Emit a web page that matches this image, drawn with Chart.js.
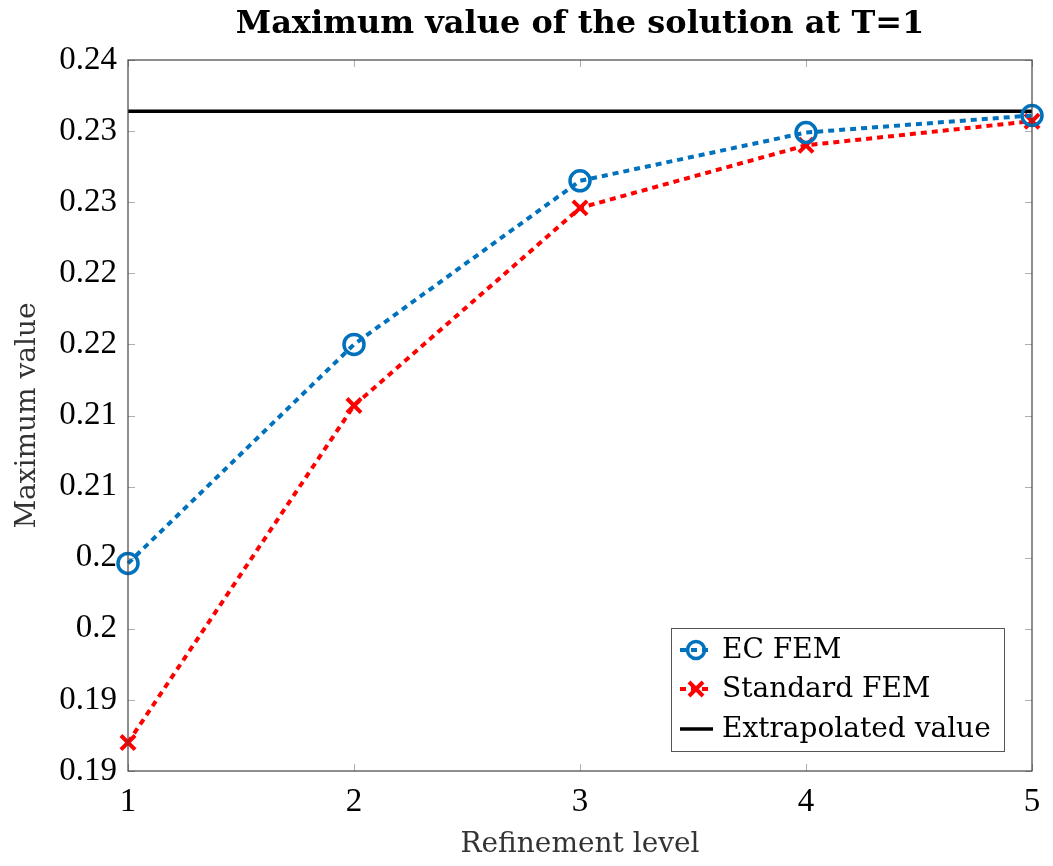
<!DOCTYPE html>
<html>
<head>
<meta charset="utf-8">
<script src="https://cdn.jsdelivr.net/npm/chart.js@4.4.1/dist/chart.umd.min.js"></script>
<style>
  html, body { margin: 0; padding: 0; background: #fff; }
  #wrap { width: 1053px; height: 866px; }
</style>
</head>
<body>
<div id="wrap"><canvas id="maxChart"></canvas></div>
<script>
// Data
const refinementLevels = [1, 2, 3, 4, 5];
const ecFemValues = [0.2046, 0.2200, 0.2315, 0.2349, 0.2361];
const standardFemValues = [0.1920, 0.2157, 0.2296, 0.2340, 0.2357];
const extrapolatedValue = 0.2364;

// y ticks every 0.005, labels rounded to two digits like pgfplots does
const yTickValues = [0.19, 0.195, 0.2, 0.205, 0.21, 0.215, 0.22, 0.225, 0.23, 0.235, 0.24];
const yTickLabels = ['0.19', '0.19', '0.2', '0.2', '0.21', '0.21', '0.22', '0.22', '0.23', '0.23', '0.24'];
const xTickLabels = ['1', '2', '3', '4', '5'];

const seriesNames = ['EC FEM', 'Standard FEM', 'Extrapolated value'];
const BLUE = '#0072BD';
const RED = '#FF0000';
const NUM_FONT = "'Liberation Serif', serif";
const TEXT_FONT = "'DejaVu Serif', serif";

const toPoints = vals => vals.map((v, i) => ({ x: refinementLevels[i], y: v }));

// Frame, inward tick marks and the boxed legend
const framePlugin = {
    id: 'frame',
    afterDatasetsDraw(chart) {
        const { ctx, chartArea: a, scales } = chart;
        ctx.save();
        // small inward ticks
        ctx.strokeStyle = '#b0b0b0';
        ctx.lineWidth = 1;
        ctx.beginPath();
        yTickValues.forEach(v => {
            const y = Math.round(scales.y.getPixelForValue(v)) + 0.5;
            ctx.moveTo(a.left, y); ctx.lineTo(a.left + 7, y);
            ctx.moveTo(a.right, y); ctx.lineTo(a.right - 7, y);
        });
        refinementLevels.forEach(v => {
            const x = Math.round(scales.x.getPixelForValue(v)) + 0.5;
            ctx.moveTo(x, a.bottom); ctx.lineTo(x, a.bottom - 7);
            ctx.moveTo(x, a.top); ctx.lineTo(x, a.top + 7);
        });
        ctx.stroke();
        // frame
        ctx.strokeStyle = '#444';
        ctx.lineWidth = 1.2;
        ctx.strokeRect(a.left, a.top, a.right - a.left, a.bottom - a.top);

        // legend box (south east)
        const bw = 333, bh = 123;
        const bx = a.right - 28 - bw, by = a.bottom - 20 - bh;
        ctx.fillStyle = '#fff';
        ctx.fillRect(bx, by, bw, bh);
        ctx.strokeStyle = '#555';
        ctx.lineWidth = 1;
        ctx.strokeRect(bx + 0.5, by + 0.5, bw, bh);

        const rows = [by + 22, by + 61, by + 101];
        const styles = [
            { color: BLUE, dash: [6, 5], marker: 'circle' },
            { color: RED, dash: [6, 5], marker: 'cross' },
            { color: '#000', dash: [], marker: null }
        ];
        rows.forEach((ry, i) => {
            const s = styles[i];
            ctx.strokeStyle = s.color;
            ctx.lineWidth = s.marker ? 4 : 3.5;
            ctx.setLineDash(s.dash);
            ctx.beginPath();
            ctx.moveTo(bx + 9, ry); ctx.lineTo(bx + 42, ry);
            ctx.stroke();
            ctx.setLineDash([]);
            const mx = bx + 25;
            if (s.marker === 'circle') {
                ctx.lineWidth = 3.5;
                ctx.beginPath(); ctx.arc(mx, ry, 8.5, 0, Math.PI * 2); ctx.stroke();
            } else if (s.marker === 'cross') {
                ctx.lineWidth = 4;
                ctx.beginPath();
                ctx.moveTo(mx - 7, ry - 7); ctx.lineTo(mx + 7, ry + 7);
                ctx.moveTo(mx + 7, ry - 7); ctx.lineTo(mx - 7, ry + 7);
                ctx.stroke();
            }
            ctx.fillStyle = '#000';
            ctx.font = '28px ' + TEXT_FONT;
            ctx.textBaseline = 'middle';
            ctx.textAlign = 'left';
            ctx.fillText(seriesNames[i], bx + 51, ry + 1);
        });
        ctx.restore();
    }
};

new Chart(document.getElementById('maxChart'), {
    type: 'line',
    data: {
        datasets: [
            {
                label: seriesNames[0],
                data: toPoints(ecFemValues),
                borderColor: BLUE,
                backgroundColor: 'transparent',
                borderWidth: 4,
                borderDash: [6, 5],
                pointStyle: 'circle',
                pointRadius: 10,
                pointBorderWidth: 3.5,
                pointBackgroundColor: 'transparent',
                pointBorderColor: BLUE
            },
            {
                label: seriesNames[1],
                data: toPoints(standardFemValues),
                borderColor: RED,
                backgroundColor: 'transparent',
                borderWidth: 4,
                borderDash: [6, 5],
                pointStyle: 'crossRot',
                pointRadius: 10,
                pointBorderWidth: 4,
                pointBorderColor: RED
            },
            {
                label: seriesNames[2],
                data: [
                    { x: refinementLevels[0], y: extrapolatedValue },
                    { x: refinementLevels[refinementLevels.length - 1], y: extrapolatedValue }
                ],
                borderColor: '#000',
                borderWidth: 3.5,
                pointRadius: 0
            }
        ]
    },
    options: {
        responsive: true,
        maintainAspectRatio: false,
        animation: false,
        clip: false,
        layout: { padding: { left: 0, right: 21, top: 0, bottom: 0 } },
        scales: {
            x: {
                type: 'linear',
                min: 1,
                max: 5,
                afterFit: s => { s.height = 95; },
                afterBuildTicks: s => { s.ticks = refinementLevels.map(v => ({ value: v })); },
                grid: { display: false, drawTicks: false },
                border: { display: false },
                ticks: {
                    color: '#000',
                    padding: 12,
                    font: { family: NUM_FONT, size: 33 },
                    callback: (v) => xTickLabels[refinementLevels.indexOf(v)]
                },
                title: {
                    display: true,
                    text: 'Refinement level',
                    color: '#333',
                    font: { family: TEXT_FONT, size: 28 },
                    padding: { top: 4, bottom: 4 }
                }
            },
            y: {
                type: 'linear',
                min: 0.19,
                max: 0.24,
                afterFit: s => { s.width = 128; },
                afterBuildTicks: s => { s.ticks = yTickValues.map(v => ({ value: v })); },
                grid: { display: false, drawTicks: false },
                border: { display: false },
                ticks: {
                    color: '#000',
                    padding: 11,
                    font: { family: NUM_FONT, size: 33 },
                    callback: (v) => {
                        const i = yTickValues.findIndex(t => Math.abs(t - v) < 1e-9);
                        return i >= 0 ? yTickLabels[i] : '';
                    }
                },
                title: {
                    display: true,
                    text: 'Maximum value',
                    color: '#333',
                    font: { family: TEXT_FONT, size: 28 },
                    padding: { top: 11, bottom: 11 }
                }
            }
        },
        plugins: {
            legend: { display: false },
            tooltip: { enabled: false },
            title: {
                display: true,
                fullSize: false,
                text: 'Maximum value of the solution at T=1',
                color: '#000',
                font: { family: TEXT_FONT, size: 32, weight: 'bold' },
                padding: { top: 5, bottom: 16.6 }
            }
        }
    },
    plugins: [framePlugin]
});
</script>
</body>
</html>
